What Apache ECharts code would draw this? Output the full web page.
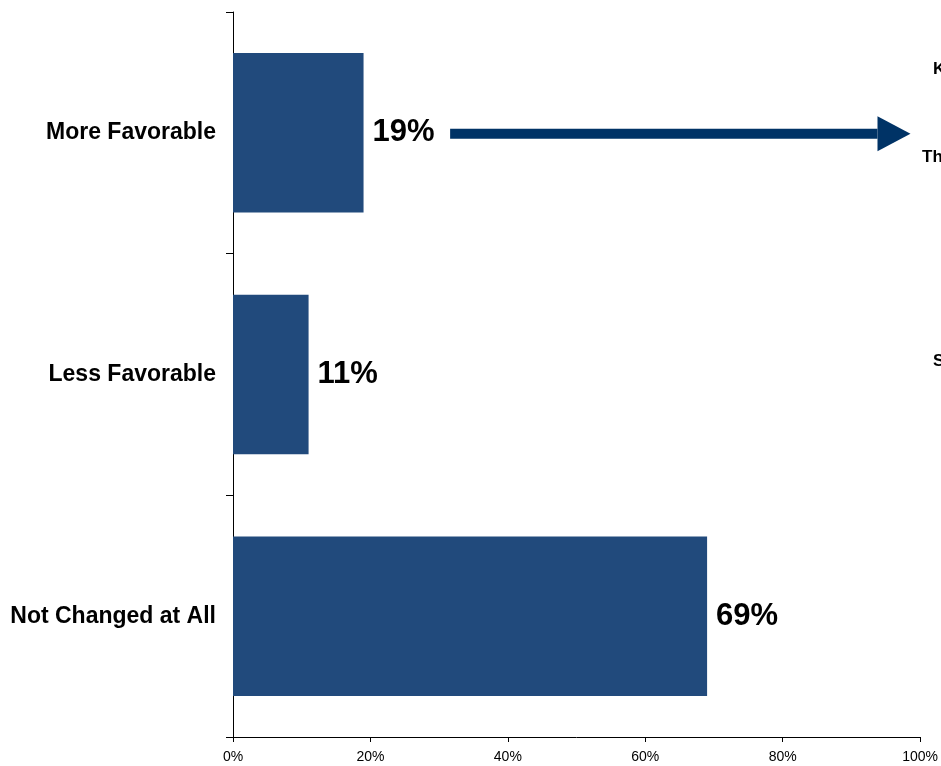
<!DOCTYPE html>
<html>
<head>
<meta charset="utf-8">
<script src="https://cdn.jsdelivr.net/npm/echarts@6/dist/echarts.min.js"></script>
<style>html,body{margin:0;padding:0;background:#fff;}#c{width:941px;height:766px;}</style>
</head>
<body>
<div id="c"></div>
<script>
var categories = ['More Favorable', 'Less Favorable', 'Not Changed at All'];
var values = [19, 11, 69];
var xTicks = [0, 20, 40, 60, 80, 100];
var arrowCategory = 'More Favorable';
var arrowFrom = 31.6;
var arrowTo = 98.6;
var sideTexts = ['K', 'Th', 'S'];

var chart = echarts.init(document.getElementById('c'));
var FONT = '"Liberation Sans", Arial, sans-serif';
chart.setOption({
  animation: false,
  grid: { left: 233, right: 14, top: 12, bottom: 29, containLabel: false },
  xAxis: {
    type: 'value', min: xTicks[0], max: xTicks[xTicks.length - 1], interval: xTicks[1] - xTicks[0],
    axisLine: { show: true, lineStyle: { color: '#000', width: 1 } },
    axisTick: { show: true, length: 5, lineStyle: { color: '#000' } },
    splitLine: { show: false },
    axisLabel: { formatter: '{value}%', color: '#000', fontSize: 14, fontFamily: FONT, margin: 13 }
  },
  yAxis: {
    type: 'category', data: categories, inverse: true,
    axisLine: { show: true, lineStyle: { color: '#000', width: 1 } },
    axisTick: { show: true, length: 7, lineStyle: { color: '#000' } },
    axisLabel: { color: '#000', fontSize: 23, fontWeight: 'bold', fontFamily: FONT, margin: 17 }
  },
  series: [{
    type: 'bar', data: values, barWidth: '66%',
    itemStyle: { color: '#214a7c' },
    label: { show: true, position: 'right', distance: 9, formatter: '{c}%', color: '#000', fontSize: 31, fontWeight: 'bold', fontFamily: FONT }
  }]
});

var p1 = chart.convertToPixel({ xAxisIndex: 0, yAxisIndex: 0 }, [arrowFrom, arrowCategory]);
var p2 = chart.convertToPixel({ xAxisIndex: 0, yAxisIndex: 0 }, [arrowTo, arrowCategory]);
var headLen = 33, headHalf = 17.5, shaftHalf = 5;
var y = p1[1] + 1;
chart.setOption({
  graphic: [
    { type: 'rect', shape: { x: p1[0], y: y - shaftHalf, width: p2[0] - headLen - p1[0], height: shaftHalf * 2 }, style: { fill: '#003366' } },
    { type: 'polygon', shape: { points: [[p2[0] - headLen, y - headHalf], [p2[0], y], [p2[0] - headLen, y + headHalf]] }, style: { fill: '#003366' } },
    { type: 'text', left: 933, top: 61, style: { text: sideTexts[0], font: 'bold 17px ' + FONT, fill: '#000' } },
    { type: 'text', left: 922, top: 149, style: { text: sideTexts[1], font: 'bold 17px ' + FONT, fill: '#000' } },
    { type: 'text', left: 933, top: 353, style: { text: sideTexts[2], font: 'bold 17px ' + FONT, fill: '#000' } }
  ]
});
</script>
</body>
</html>
